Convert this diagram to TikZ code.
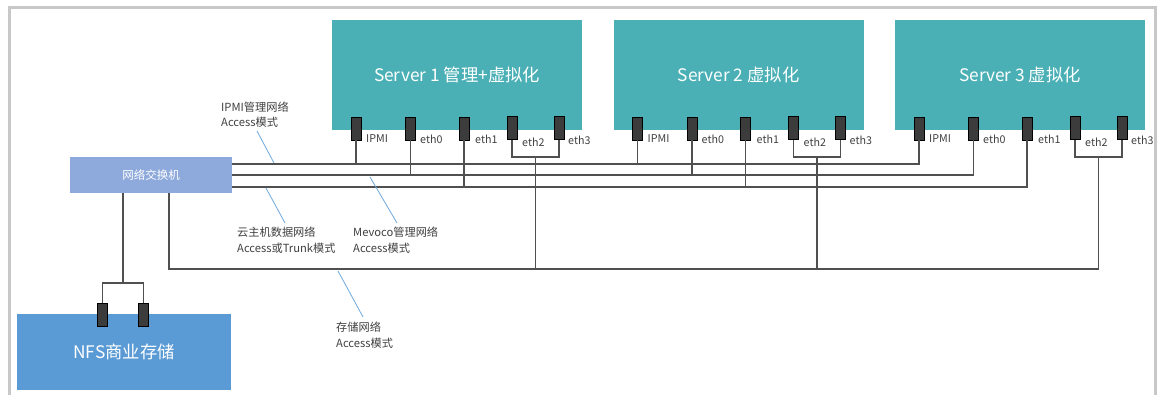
\documentclass[tikz,border=0pt]{standalone}
\usepackage{fontspec}
\setmainfont{Noto Sans CJK SC}
\definecolor{teal1}{HTML}{4BB0B5}
\definecolor{swblue}{HTML}{8EA9DB}
\definecolor{nfsblue}{HTML}{5B9BD5}
\definecolor{portgray}{HTML}{3C3C3C}
\definecolor{wiregray}{HTML}{505050}
\definecolor{framegray}{HTML}{C8C8C8}
\definecolor{txtgray}{HTML}{404040}
\definecolor{leadblue}{HTML}{6FA8DC}
\begin{document}
\begin{tikzpicture}[x=1pt,y=-1pt,
  server/.style={rectangle, fill=teal1, text=white, minimum width=250pt, minimum height=110pt, inner sep=0pt, font=\fontsize{17.3}{20}\selectfont},
  switchbox/.style={rectangle, fill=swblue, text=white, minimum width=162pt, minimum height=36pt, inner sep=0pt, font=\fontsize{11.5}{13}\selectfont},
  nfsbox/.style={rectangle, fill=nfsblue, text=white, minimum width=214pt, minimum height=76pt, inner sep=0pt, font=\fontsize{17.3}{20}\selectfont},
  port/.style={rectangle, draw=black, line width=0.6pt, fill=portgray, minimum width=10pt, minimum height=23pt, inner sep=0pt},
  plabel/.style={anchor=west, inner sep=0pt, text=txtgray, font=\fontsize{10.7}{12}\selectfont},
  note/.style={anchor=west, align=left, inner sep=0pt, text=txtgray, font=\fontsize{11.2}{15.5}\selectfont},
  wire/.style={draw=wiregray, line width=1.4pt},
  leader/.style={draw=leadblue, line width=0.8pt}]
\clip (0,0) rectangle (1160,394);
\fill[white] (0,0) rectangle (1160,394);
\draw[framegray, line width=3pt] (9.5,7.5) rectangle (1155.5,430);

% bus levels
\coordinate (b1) at (0,164);
\coordinate (b2) at (0,175);
\coordinate (b3) at (0,187);
\coordinate (b4) at (0,269);

% switch
\node[switchbox] (sw) at (151,175) {网络交换机};

% servers
\foreach \i/\dx/\t in {1/0/{Server 1 管理+虚拟化},2/281.5/{Server 2 虚拟化},3/563/{Server 3 虚拟化}} {
  \node[server] (s\i) at (457+\dx,75) {\t};
  \node[port] (p\i-0) at (356+\dx,128.5) {};
  \node[port] (p\i-1) at (410.5+\dx,128.5) {};
  \node[port] (p\i-2) at (464+\dx,128.5) {};
  \node[port] (p\i-3) at (512+\dx,128) {};
  \node[port] (p\i-4) at (559+\dx,128) {};
  \node[plabel] (l\i-0) at (366+\dx,139) {IPMI};
  \node[plabel] (l\i-1) at (420+\dx,139) {eth0};
  \node[plabel] (l\i-2) at (475+\dx,139) {eth1};
  \node[plabel] (l\i-3) at (522+\dx,142) {eth2};
  \node[plabel] (l\i-4) at (568+\dx,140) {eth3};
  \coordinate (j\i) at (535.5+\dx,157);
  \draw[wire] (p\i-3.south) |- (j\i) -| (p\i-4.south);
}

% IPMI, eth0, eth1 buses
\draw[wire] (sw.east |- b1) -| (p3-0.south);
\draw[wire] (sw.east |- b2) -| (p3-1.south);
\draw[wire] (sw.east |- b3) -| (p3-2.south);
\foreach \i in {1,2} {
  \draw[wire] (p\i-0.south) -- (p\i-0.south |- b1);
  \draw[wire] (p\i-1.south) -- (p\i-1.south |- b2);
  \draw[wire] (p\i-2.south) -- (p\i-2.south |- b3);
}

% storage bus
\draw[wire] ([xshift=18pt]sw.south) |- (j3 |- b4) -- (j3);
\draw[wire] (j1) -- (j1 |- b4);
\draw[wire] (j2) -- (j2 |- b4);

% NFS storage
\node[nfsbox] (nfs) at (124,352) {NFS商业存储};
\node[port] (n1) at (102.5,315) {};
\node[port] (n2) at (143.5,315) {};
\coordinate (nj) at (123,283);
\draw[wire] (n1.north) |- (nj) -| (n2.north);
\draw[wire] ([xshift=-28pt]sw.south) -- (nj);

% notes
\node[note] (t1) at (221,114.5) {IPMI管理网络\\Access模式};
\node[note] (t2) at (237,240) {云主机数据网络\\Access或Trunk模式};
\node[note] (t3) at (353,240) {Mevoco管理网络\\Access模式};
\node[note] (t4) at (336,335) {存储网络\\Access模式};

\coordinate (a1) at (257,131); \coordinate (e1) at (274,163);
\coordinate (a2) at (285,223); \coordinate (e2) at (266,188);
\coordinate (a3) at (397,223); \coordinate (e3) at (370,177);
\coordinate (a4) at (363,317); \coordinate (e4) at (338,271);
\draw[leader] (a1) -- (e1);
\draw[leader] (a2) -- (e2);
\draw[leader] (a3) -- (e3);
\draw[leader] (a4) -- (e4);
\end{tikzpicture}
\end{document}
